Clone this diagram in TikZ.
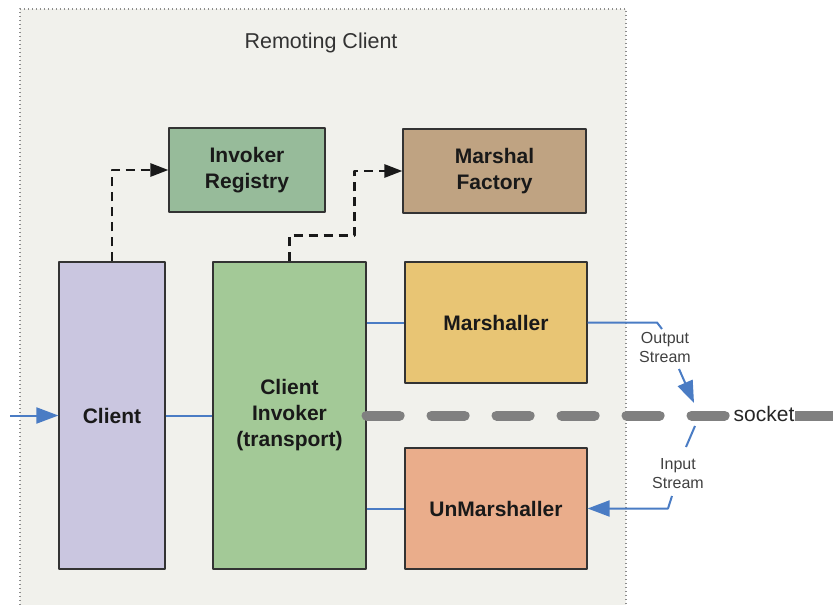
\documentclass[tikz,border=0pt]{standalone}
\usepackage{fontspec}
\setmainfont{Liberation Sans}
\usetikzlibrary{arrows.meta}
\definecolor{bgcol}{HTML}{F1F1EC}
\definecolor{regcol}{HTML}{97BB9A}
\definecolor{faccol}{HTML}{BFA382}
\definecolor{clicol}{HTML}{CAC6E0}
\definecolor{invcol}{HTML}{A3C997}
\definecolor{marcol}{HTML}{E8C574}
\definecolor{unmcol}{HTML}{EAAD8B}
\definecolor{flowcol}{HTML}{4A7CC4}
\definecolor{sockcol}{HTML}{808080}
\begin{document}
\begin{tikzpicture}[x=1pt, y=-1pt, line join=round,
	box/.style={draw=black!80, line width=1.2pt, align=center, text=black!90,
		font=\bfseries\fontsize{21}{26}\selectfont},
	dasharr/.style={-{Triangle[length=18pt,width=13pt]}, line width=2.7pt, dash pattern=on 9pt off 6pt, black!90},
	flow/.style={flowcol, line width=2pt},
	flowarr/.style={flow, -{Triangle[length=22pt,width=16pt]}},
	lbl/.style={align=center, text=black!75, font=\fontsize{16}{19}\selectfont, inner sep=1pt},
	sock/.style={sockcol, line width=10pt}]
	\useasboundingbox (0,0) rectangle (833,605);
	% remoting client area
	\fill[bgcol] (20,9) rectangle (626,605);
	\draw[black!45, line width=1.3pt, dash pattern=on 1.3pt off 2.7pt] (20,605)--(20,9)--(626,9)--(626,605);
	\node[font=\fontsize{21.5}{24}\selectfont, text=black!80] (title) at (321,43) {Remoting Client};
	% boxes
	\node[box, fill=regcol, minimum width=156pt, minimum height=84pt] (reg) at (247,170) {Invoker\\Registry};
	\node[box, fill=faccol, minimum width=183pt, minimum height=84pt] (fac) at (494.5,171) {Marshal\\Factory};
	\node[box, fill=clicol, minimum width=106pt, minimum height=307pt] (cli) at (112,415.5) {Client};
	\node[box, fill=invcol, minimum width=153pt, minimum height=307pt] (inv) at (289.5,415.5) {Client\\Invoker\\(transport)};
	\node[box, fill=marcol, minimum width=182pt, minimum height=121pt] (mar) at (496,322.5) {Marshaller};
	\node[box, fill=unmcol, minimum width=182pt, minimum height=121pt] (unm) at (496,508.5) {UnMarshaller};
	% socket
	\node[anchor=mid west, inner sep=0.5pt, font=\fontsize{21}{24}\selectfont, text=black!85] (sk) at (733,418.5) {socket};
	\draw[sock, line cap=round, dash pattern=on 33pt off 32pt] (inv.east) -- (inv.east -| sk.west);
	\draw[sock] (inv.east -| sk.east) -- (833,415.5);
	% lookups
	\draw[dasharr] (cli.north) |- (reg.west);
	\draw[dasharr] (inv.north) -- ++(0,-26) -| ([xshift=-48pt]fac.west) -- (fac.west);
	% calls
	\coordinate (in) at (10,415.5);
	\draw[flowarr] (in) -- (cli.west);
	\draw[flow] (cli.east) -- (inv.west);
	\draw[flow] (mar.west -| inv.east) -- (mar.west);
	\draw[flow] (unm.west -| inv.east) -- (unm.west);
	% streams
	\node[lbl] (outs) at (665,347) {Output\\Stream};
	\node[lbl] (ins) at (678,474) {Input\\Stream};
	\coordinate (sout) at (694,403);
	\coordinate (sin) at (695,426);
	\draw[flow] (mar.east) -- (657,322.5) -- (662,329);
	\draw[flowarr] (679,369) -- (sout);
	\draw[flow] (sin) -- (686,447);
	\draw[flowarr] (672,496) -- (668,508.5) -- (unm.east);
\end{tikzpicture}
\end{document}
